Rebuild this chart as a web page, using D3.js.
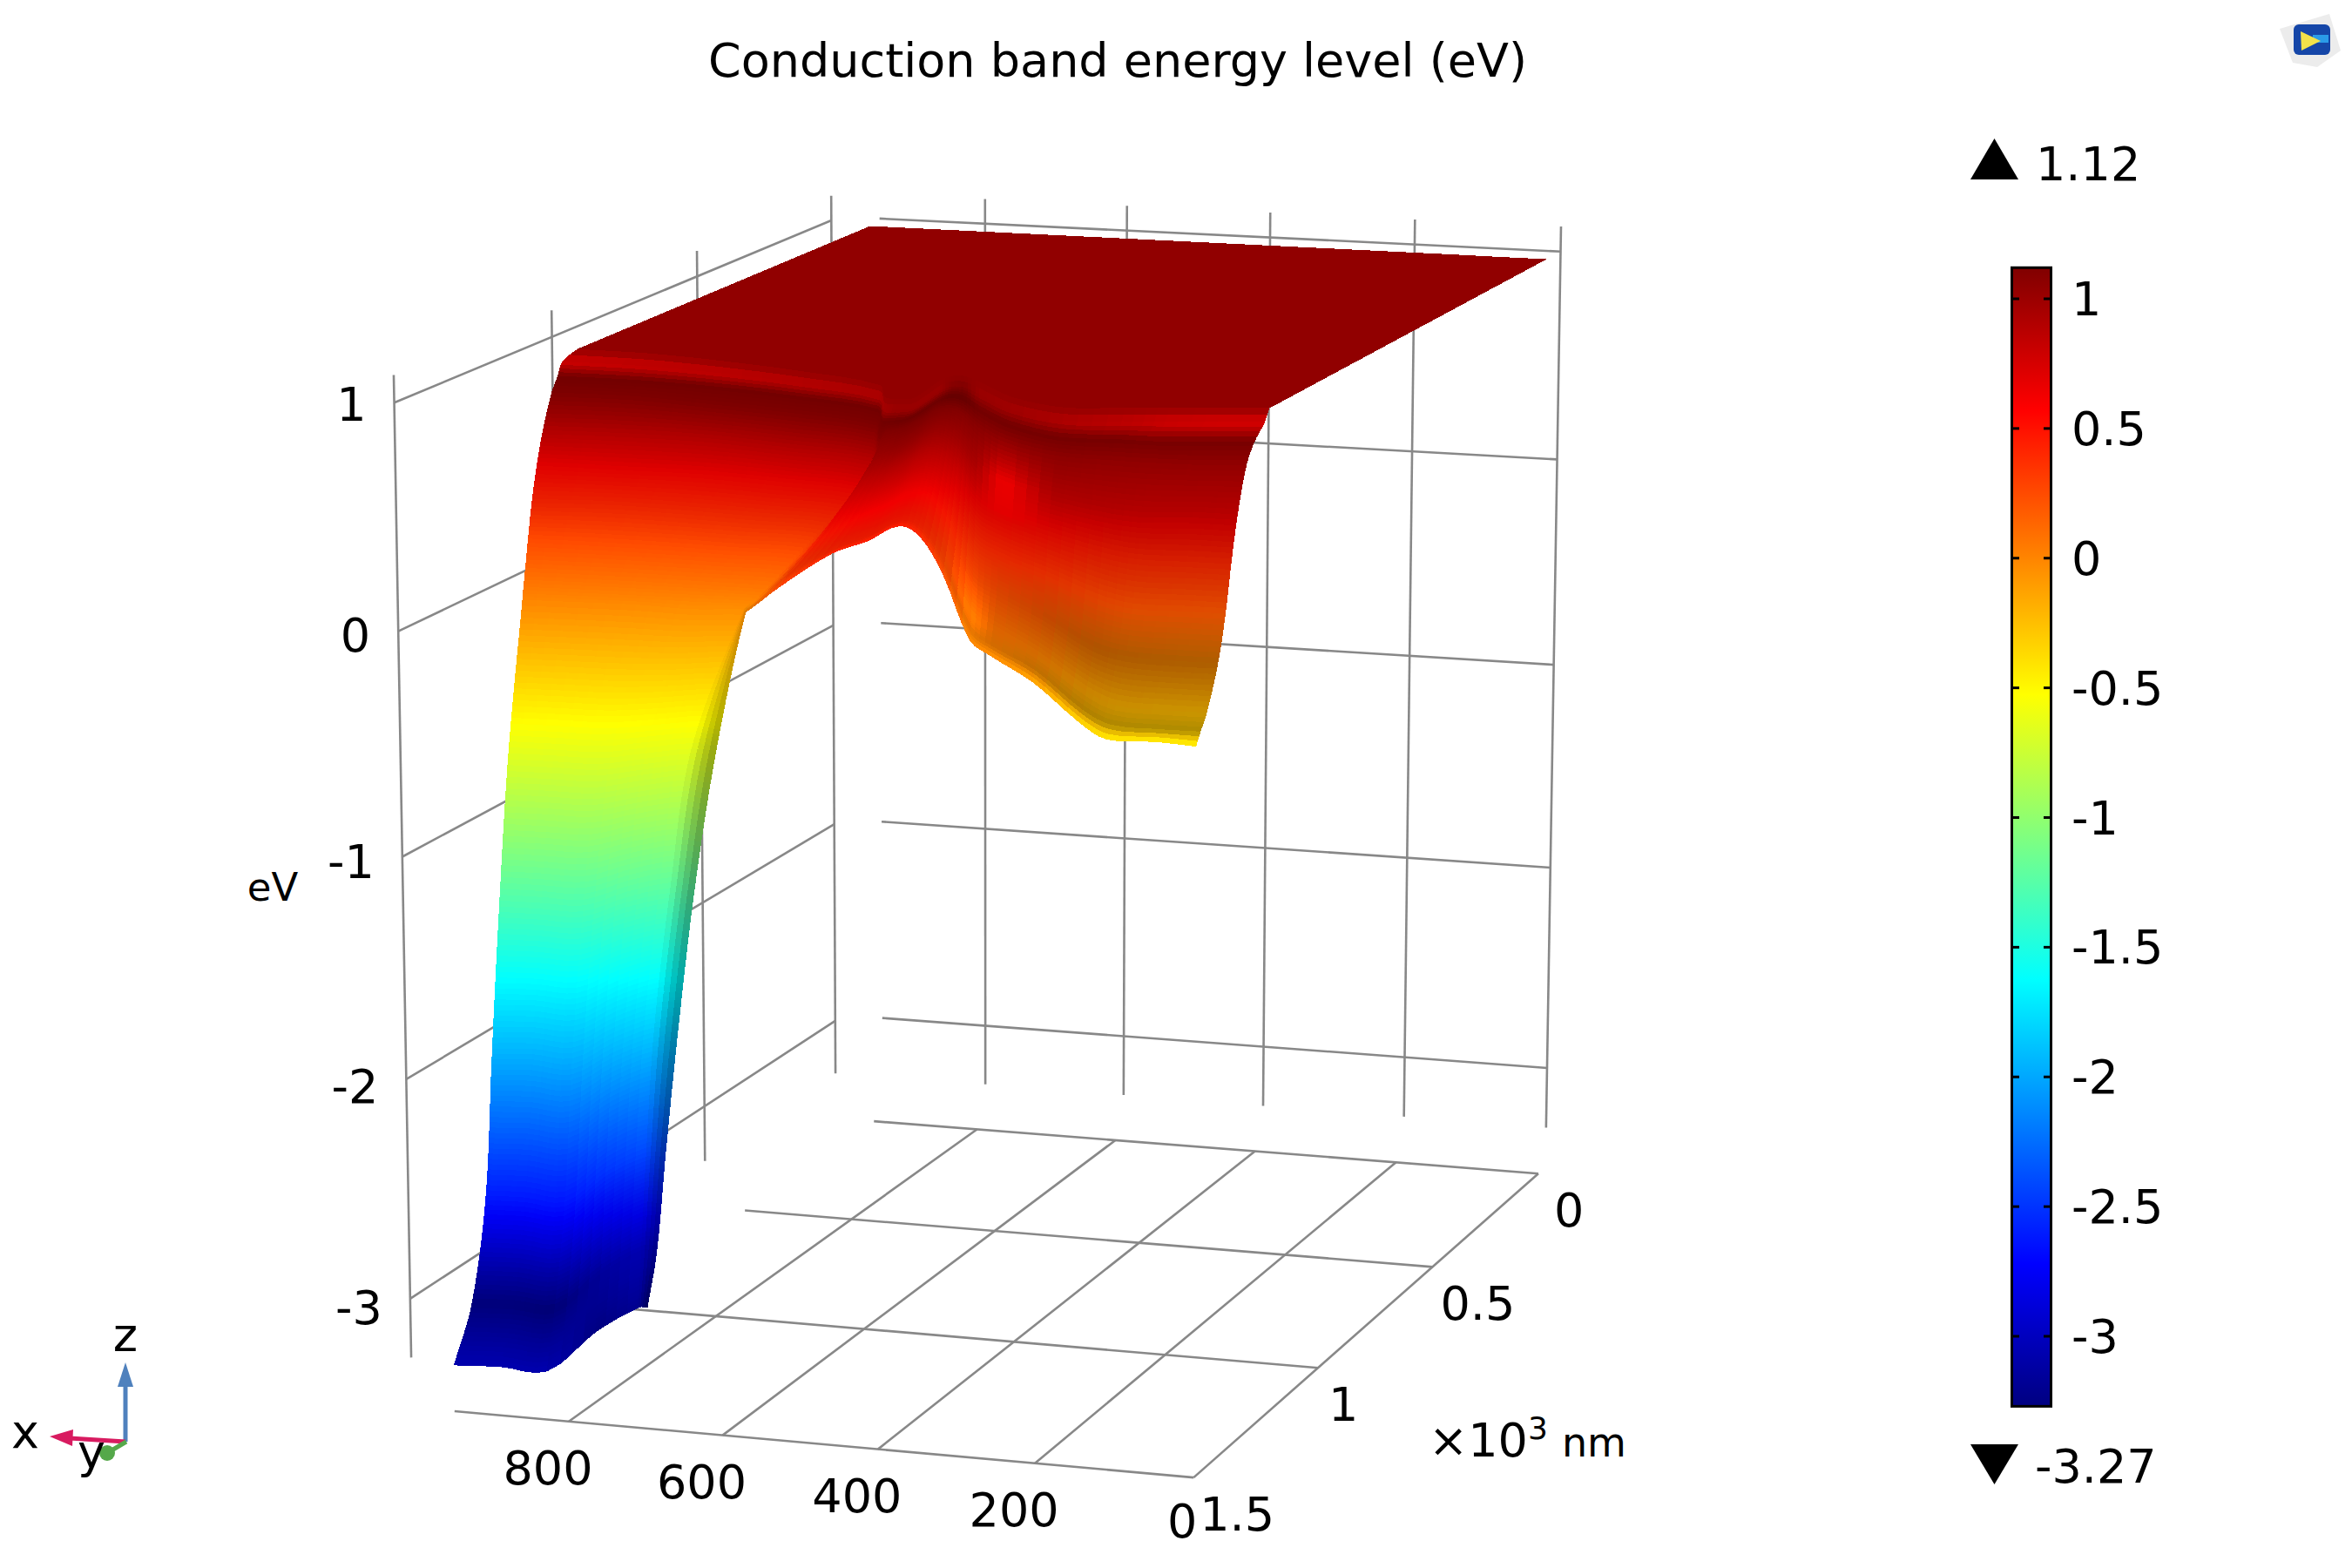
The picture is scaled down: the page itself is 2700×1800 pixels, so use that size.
<!DOCTYPE html><html><head><meta charset="utf-8"><script src="https://cdn.jsdelivr.net/npm/d3@7"></script>
<style>html,body{margin:0;background:#fff}svg{display:block}text{font-family:"DejaVu Sans";fill:#000}</style></head><body><svg id="c" width="2700" height="1800"></svg>
<script>
// ===== chart values =====
const title='Conduction band energy level (eV)';
const xTicks=[800,600,400,200,0];              // nm
const yTicks=[0,.5,1,1.5];                     // x10^3 nm
const zTicks=[1,0,-1,-2,-3];                   // eV
const xTickLabels=['800','600','400','200','0'];
const yTickLabels=['0','0.5','1','1.5'];
const zTickLabels=['1','0','-1','-2','-3'];
const barTicks=[1,.5,0,-.5,-1,-1.5,-2,-2.5,-3];
const zMax=1.12, zMin=-3.27;
// surface nodes: x (nm), y (nm), energy (eV x100), brightness (%)
const surfX=[
[938,855,762,670,588,516,500,480,461,441,425,409,388,344,273,193,133,63,1],
[941,842,738,618,497,463,445,428,431,439,436,422,390,318,234,167,116,56,4],
[924,820,708,589,469,436,421,405,407,415,411,395,361,291,208,140,91,32,-20],
[921,817,705,587,469,439,417,398,399,405,401,387,355,288,208,144,98,40,-11],
[926,821,709,592,477,449,422,402,401,407,402,387,354,290,211,148,104,47,-3],
[932,827,717,604,493,469,437,411,408,411,405,388,353,291,214,153,111,54,5],
[935,832,725,616,517,504,453,422,416,416,408,389,352,292,216,155,115,59,10],
[937,841,745,650,562,552,472,435,425,421,412,390,351,292,217,157,118,62,14],
[937,852,767,684,606,599,494,449,435,428,416,392,350,292,218,160,123,67,20],
[937,863,789,717,650,646,517,465,446,435,421,395,349,294,222,166,132,77,30],
[937,867,798,731,668,665,527,472,451,438,423,396,349,296,225,169,137,83,36],
[937,870,804,740,679,677,534,477,454,440,425,396,349,296,226,172,141,86,40],
[936,883,830,777,724,696],
[930,881,832,783,733,706],
[935,888,842,792,744,717],
[948,902,856,807,759,737],
[995,946,899,834,778,760],
[943,886,825,834,799,789]];
const surfY=[
[35,35,35,35,35,35,35,35,35,35,35,35,35,35,35,35,35,36,36],
[1078,1082,1107,1149,1213,1290,1296,1291,1236,1160,1126,1121,1156,1245,1295,1274,1258,1239,1222],
[1169,1170,1191,1231,1291,1367,1369,1359,1305,1229,1197,1198,1240,1327,1379,1363,1350,1332,1316],
[1192,1191,1207,1242,1296,1366,1397,1390,1337,1262,1228,1224,1259,1346,1396,1376,1361,1343,1327],
[1200,1195,1208,1237,1284,1348,1400,1393,1339,1265,1231,1227,1262,1349,1398,1379,1366,1348,1332],
[1215,1205,1209,1226,1259,1311,1408,1399,1345,1270,1237,1234,1270,1355,1404,1386,1373,1355,1340],
[1229,1214,1210,1217,1239,1281,1418,1406,1351,1276,1243,1241,1278,1361,1409,1392,1380,1363,1348],
[1242,1225,1217,1216,1226,1256,1428,1413,1358,1283,1250,1249,1286,1368,1414,1399,1388,1371,1356],
[1255,1237,1224,1216,1215,1233,1438,1421,1365,1289,1257,1256,1294,1374,1421,1407,1397,1380,1365],
[1268,1248,1231,1217,1205,1212,1450,1429,1372,1296,1264,1264,1303,1382,1428,1415,1407,1390,1376],
[1273,1253,1234,1217,1201,1204,1455,1433,1375,1299,1267,1267,1306,1385,1431,1419,1412,1395,1381],
[1276,1256,1237,1217,1199,1199,1459,1435,1377,1301,1269,1270,1308,1387,1433,1422,1415,1399,1385],
[1330,1314,1299,1280,1262,1254],
[1381,1367,1353,1332,1314,1305],
[1400,1385,1370,1357,1344,1335],
[1394,1379,1364,1351,1337,1330],
[1331,1314,1296,1305,1309,1304],
[1515,1505,1506,1325,1267,1264]];
const surfE=[
[100,100,100,100,100,100,100,100,100,100,100,100,100,100,100,100,100,100,100],
[100,100,100,100,100,100,100,100,100,100,100,100,100,100,100,100,100,100,100],
[100,100,100,100,100,100,100,100,100,100,100,100,100,100,100,100,100,100,100],
[95,95,95,95,95,95,97,98,98,98,98,97,95,95,94,93,92,92,92],
[88,88,87,87,87,87,92,94,94,94,93,91,87,87,86,84,83,82,82],
[72,72,72,71,71,71,80,84,85,86,84,79,71,71,69,64,62,62,61],
[57,56,56,55,55,55,69,75,76,77,74,67,55,55,52,45,42,41,40],
[41,41,40,39,39,38,58,66,67,68,64,55,39,39,35,25,21,20,19],
[26,25,24,23,23,22,46,56,58,59,55,43,24,24,18,5,1,-1,-2],
[10,9,8,7,6,6,35,47,49,51,45,30,8,8,1,-14,-20,-22,-23],
[4,3,2,1,0,-1,31,43,45,47,41,26,1,1,-5,-22,-28,-30,-31],
[0,-1,-2,-4,-4,-5,27,41,43,45,38,22,-3,-3,-10,-27,-34,-35,-37],
[-65,-66,-67,-65,-63,-64],
[-130,-131,-132,-126,-122,-123],
[-198,-198,-200,-190,-183,-183],
[-261,-262,-264,-250,-241,-241],
[-318,-319,-321,-302,-289,-289],
[-327,-327,-327,-327,-320,-320]];
const surfL=[
[93,93,93,93,93,93,93,93,93,93,93,93,93,93,93,93,93,93,93],
[93,93,93,93,93,93,93,93,93,93,93,93,93,93,93,93,93,93,93],
[135,130,126,120,114,108,100,100,100,100,85,80,100,105,115,125,135,140,140],
[68,68,68,68,68,68,68,68,68,68,62,62,68,68,68,68,68,68,68],
[68,68,68,68,68,68,74,74,74,74,74,74,74,80,74,74,74,74,74],
[80,80,80,80,80,80,78,78,78,78,78,78,76,108,76,74,74,74,74],
[88,88,88,88,88,88,85,85,85,85,85,85,85,86,85,84,84,84,84],
[92,92,92,92,92,92,90,90,90,90,90,90,90,90,89,88,88,88,88],
[100,100,100,100,100,100,95,95,95,95,95,95,95,86,77,68,68,68,68],
[100,100,100,100,100,100,90,90,90,90,90,90,115,87,83,80,80,80,80],
[100,100,100,100,100,100,90,90,90,90,90,90,90,83,75,68,68,68,68],
[100,100,100,100,100,85,100,100,100,100,100,100,100,105,110,115,115,115,115],
[100,100,100,100,100,62],
[100,100,100,100,100,62],
[100,100,100,100,100,62],
[100,100,100,100,100,62],
[82,82,82,82,82,62],
[135,135,135,100,100,62]];
// ===== view =====
const camera=[-796.01548,-375.58380,-7.0126026,1779.2519,-33.758787,106.19715,-241.01467,532.53513,0.023915782,-0.077475545,-0.0061276361];
const proj=(xNm,y,z)=>{const P=camera,X=xNm/1000,w=P[8]*X+P[9]*y+P[10]*z+1;return [(P[0]*X+P[1]*y+P[2]*z+P[3])/w,(P[4]*X+P[5]*y+P[6]*z+P[7])/w];};
const svg=d3.select('#c');
const line=(g,pts)=>g.append('path').attr('d',d3.line()(pts)).attr('fill','none').attr('stroke','#888').attr('stroke-width',2.6);
const gG=svg.append('g');
const yB=-.035,xW=1006,xF=950,zF=-3.5;
xTicks.forEach(x=>line(gG,[proj(x,yB,zMax),proj(x,yB,-3.3)]));
zTicks.forEach(z=>line(gG,[proj(xF,yB,z),proj(0,yB,z)]));
yTicks.forEach(y=>line(gG,[proj(xW,y,zMax),proj(xW,y,zMin)]));
zTicks.forEach(z=>line(gG,[proj(xW,0,z),proj(xW,1.5,z)]));
xTicks.forEach(x=>line(gG,[proj(x,0,zF),proj(x,1.5,zF)]));
yTicks.forEach(y=>line(gG,[proj(xF,y,zF),proj(0,y,zF)]));
const jet=d3.scaleLinear().domain([0,.125,.375,.625,.875,1]).range(['#000080','#0000ff','#00ffff','#ffff00','#ff0000','#800000']).clamp(true);
const zT=d3.scaleLinear().domain([zMin,zMax]).range([0,1]);
const col=(z,L)=>{const c=d3.rgb(jet(zT(z)));return d3.rgb(c.r*L,c.g*L,c.b*L).clamp().formatHex();};
const nodes=surfX.map((row,r)=>row.map((x,c)=>({x,y:surfY[r][c]/1000,z:surfE[r][c]/100,L:surfL[r][c]/100})));
const nC=surfX[0].length,nRows=nodes.length;
const pr=nodes.map(row=>row.map(n=>proj(n.x,n.y,n.z)));
function herm(pts,i,t){const a=pts[i],b=pts[i+1];const seg=Math.hypot(b[0]-a[0],b[1]-a[1]);
 const dir=k=>{const p=pts[Math.max(pts.lo,k-1)],q=pts[Math.min(pts.hi,k+1)];let dx=q[0]-p[0],dy=q[1]-p[1],l=Math.hypot(dx,dy)||1;return [dx/l*seg,dy/l*seg];};
 const m0=dir(i),m1=dir(i+1),t2=t*t,t3=t2*t;
 const h00=2*t3-3*t2+1,h10=t3-2*t2+t,h01=-2*t3+3*t2,h11=t3-t2;
 return [h00*a[0]+h10*m0[0]+h01*b[0]+h11*m1[0],h00*a[1]+h10*m0[1]+h01*b[1]+h11*m1[1]];}
const lerp=(a,b,t)=>a+(b-a)*t;
const SUBS=4,cells=[];
for(let r=0;r<nRows-1;r++){
 const cN=nodes[r+1].length;
 let dz=0;for(let c=0;c<cN;c++)dz=Math.max(dz,Math.abs(nodes[r][c].z-nodes[r+1][c].z));
 const st=Math.min(30,Math.max(2,Math.ceil(dz/.025)));
 const colsAt=t=>{const out=[];for(let c=0;c<cN;c++){
   if(r===0){out.push([lerp(pr[0][c][0],pr[1][c][0],t),lerp(pr[0][c][1],pr[1][c][1],t)]);continue;}
   const pts=[];let hi=0;for(let q=0;q<nRows&&pr[q][c];q++){pts.push(pr[q][c]);hi=q;}pts.lo=1;pts.hi=hi;out.push(herm(pts,r,t));}
   return out;};
 let prev=null;
 for(let j=0;j<=st;j++){const t=j/st,C=colsAt(t);C.lo=0;C.hi=cN-1;
  const fine=[];for(let c=0;c<cN-1;c++)for(let i=0;i<SUBS;i++)fine.push(herm(C,c,i/SUBS));fine.push(C[cN-1]);
  if(prev){for(let c=0;c<cN-1;c++)for(let i=0;i<SUBS;i++){const k=c*SUBS+i,s=(i+.5)/SUBS,tm=(j-.5)/st;
    const a=nodes[r][c],b=nodes[r][c+1],d=nodes[r+1][c],e=nodes[r+1][c+1];
    const z=lerp(lerp(a.z,b.z,s),lerp(d.z,e.z,s),tm),L=lerp(lerp(a.L,b.L,s),lerp(d.L,e.L,s),tm);
    cells.push({d:d3.line()([prev[k],prev[k+1],fine[k+1],fine[k]])+'Z',f:col(Math.max(zMin,Math.min(1,z)),L)});}}
  prev=fine;}
}
svg.append('g').attr('shape-rendering','crispEdges').selectAll('path').data(cells).join('path').attr('d',d=>d.d).attr('fill',d=>d.f).attr('stroke',d=>d.f).attr('stroke-width',1);
// texts
const FS=54;
const txt=(x,y,s,fs,a)=>svg.append('text').attr('x',x).attr('y',y).attr('font-size',fs).attr('text-anchor',a||'start').text(s);
txt(1283,88,title,FS,'middle');
xTicks.forEach((x,i)=>{const p=proj(x,1.5,zF);txt(p[0]-24+(x===0?11:0),p[1]+72-(x===0?3:0),xTickLabels[i],FS,'middle');});
const ydx=[18,9,12,7];yTicks.forEach((y,i)=>{const p=proj(0,y,zF);txt(p[0]+ydx[i],p[1]+61,yTickLabels[i],FS);});
zTicks.forEach((z,i)=>{const p=proj(xW,1.5,z);txt(p[0]-32,p[1]+21+(1-z)*2,zTickLabels[i],FS,'end');});
txt(313,1034,'eV',45,'middle');
svg.append('text').attr('x',1640).attr('y',1672).attr('font-size',FS).html('×10<tspan dy="-20" font-size="36">3</tspan><tspan dy="20" dx="16" font-size="46">nm</tspan>');
const bar=d3.scaleLinear().domain([1,-3]).range([343,1534]);
const defs=svg.append('defs');const gr=defs.append('linearGradient').attr('id','jet').attr('x1',0).attr('x2',0).attr('y1',1).attr('y2',0);
[0,.125,.375,.625,.875,1].forEach(t=>gr.append('stop').attr('offset',t).attr('stop-color',jet(t)));
svg.append('rect').attr('x',2309.5).attr('y',bar(zMax)).attr('width',45).attr('height',bar(zMin)-bar(zMax)).attr('fill','url(#jet)').attr('stroke','#000').attr('stroke-width',3);
barTicks.forEach(v=>{const y=bar(v);[[2309,2318],[2346,2355]].forEach(q=>svg.append('line').attr('x1',q[0]).attr('x2',q[1]).attr('y1',y).attr('y2',y).attr('stroke','#000').attr('stroke-width',3));txt(2378,y+19,String(v),FS);});
svg.append('path').attr('d','M2262,206L2317,206L2289.5,159Z');txt(2337,207,String(zMax),FS);
svg.append('path').attr('d','M2262,1658L2317,1658L2289.5,1704Z');txt(2336,1702,String(zMin),FS);
svg.append('line').attr('x1',144).attr('x2',144).attr('y1',1655).attr('y2',1590).attr('stroke','#4f81bd').attr('stroke-width',5);
svg.append('path').attr('d','M144,1564L135,1592L153,1592Z').attr('fill','#4f81bd');
svg.append('line').attr('x1',144).attr('x2',80).attr('y1',1655).attr('y2',1651).attr('stroke','#d81b60').attr('stroke-width',5);
svg.append('path').attr('d','M57,1649L84,1641L83,1660Z').attr('fill','#d81b60');
svg.append('line').attr('x1',145).attr('x2',123).attr('y1',1655).attr('y2',1668).attr('stroke','#55a84a').attr('stroke-width',5);
svg.append('circle').attr('cx',123).attr('cy',1668).attr('r',9).attr('fill','#55a84a');
txt(144,1551,'z',FS,'middle');txt(29,1662,'x',FS,'middle');txt(105,1685,'y',FS,'middle');
svg.append('path').attr('d','M2617,33L2674,16L2687,58L2660,77L2632,72Z').attr('fill','#ececec');
svg.append('rect').attr('x',2633).attr('y',28).attr('width',42).attr('height',35).attr('rx',6).attr('fill','#1546a8');
svg.append('rect').attr('x',2655).attr('y',40).attr('width',18).attr('height',9).attr('fill','#2a9be8');
svg.append('path').attr('d','M2641,36L2664,47L2642,58Z').attr('fill','#f2e24a');
</script></body></html>
